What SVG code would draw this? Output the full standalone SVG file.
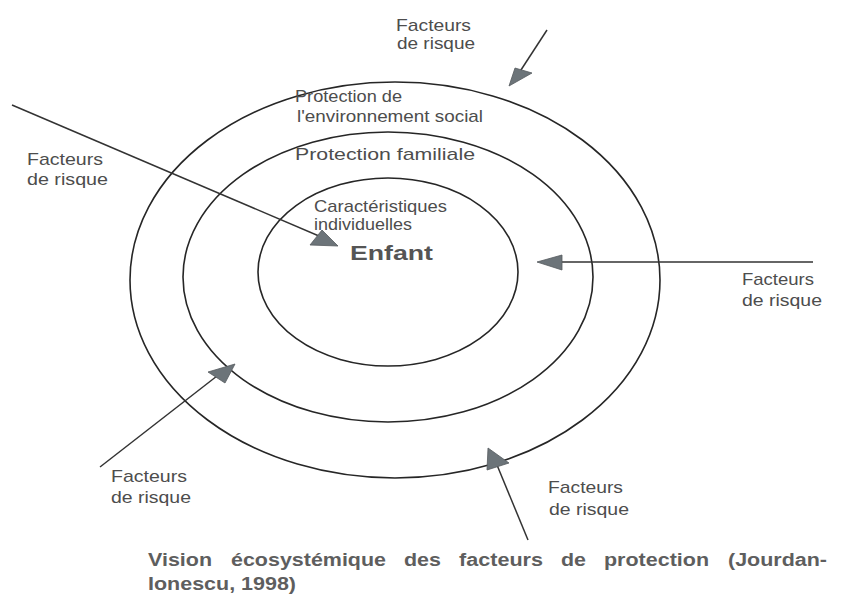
<svg xmlns="http://www.w3.org/2000/svg" width="854" height="596" viewBox="0 0 854 596">
<style>
.ring{fill:none;stroke:#262626;stroke-width:1.6}
.lbl{font-family:"Liberation Sans",Arial,sans-serif;font-size:17px;fill:#4d4d4d}
.cap{font-family:"Liberation Sans",Arial,sans-serif;font-size:18px;font-weight:bold;fill:#5e5e5e}
.big{font-family:"Liberation Sans",Arial,sans-serif;font-size:21px;font-weight:bold;fill:#555}
.ln{stroke:#333;stroke-width:1.5;fill:none}
.hd{fill:#6c7479;stroke:#555b5e;stroke-width:0.8}
</style>
<rect width="854" height="596" fill="#fff"/>
<g id="ring-social">
<ellipse class="ring" cx="395" cy="280" rx="265" ry="198"/>
<text class="lbl" x="295" y="102" textLength="107" lengthAdjust="spacingAndGlyphs">Protection de</text>
<text class="lbl" x="297" y="122" textLength="186" lengthAdjust="spacingAndGlyphs">l'environnement social</text>
</g>
<g id="ring-familiale">
<ellipse class="ring" cx="388" cy="277" rx="205" ry="145"/>
<text class="lbl" x="295" y="160" textLength="180" lengthAdjust="spacingAndGlyphs">Protection familiale</text>
</g>
<g id="ring-individuelles">
<ellipse class="ring" cx="388" cy="272" rx="130" ry="94"/>
<text class="lbl" x="314" y="212" textLength="133" lengthAdjust="spacingAndGlyphs">Caractéristiques</text>
<text class="lbl" x="314" y="230" textLength="98" lengthAdjust="spacingAndGlyphs">individuelles</text>
</g>
<g id="enfant">
<text class="big" x="350" y="260" textLength="83" lengthAdjust="spacingAndGlyphs">Enfant</text>
</g>
<g id="risque-haut">
<text class="lbl" x="396" y="31" textLength="75" lengthAdjust="spacingAndGlyphs">Facteurs</text>
<text class="lbl" x="397" y="49" textLength="78" lengthAdjust="spacingAndGlyphs">de risque</text>
</g>
<g id="risque-gauche">
<text class="lbl" x="27" y="165" textLength="76" lengthAdjust="spacingAndGlyphs">Facteurs</text>
<text class="lbl" x="27" y="185" textLength="81" lengthAdjust="spacingAndGlyphs">de risque</text>
</g>
<g id="risque-droite">
<text class="lbl" x="742" y="285" textLength="72" lengthAdjust="spacingAndGlyphs">Facteurs</text>
<text class="lbl" x="742" y="306" textLength="80" lengthAdjust="spacingAndGlyphs">de risque</text>
</g>
<g id="risque-bas-gauche">
<text class="lbl" x="111" y="482" textLength="76" lengthAdjust="spacingAndGlyphs">Facteurs</text>
<text class="lbl" x="111" y="503" textLength="80" lengthAdjust="spacingAndGlyphs">de risque</text>
</g>
<g id="risque-bas">
<text class="lbl" x="548" y="493" textLength="75" lengthAdjust="spacingAndGlyphs">Facteurs</text>
<text class="lbl" x="549" y="515" textLength="80" lengthAdjust="spacingAndGlyphs">de risque</text>
</g>
<g id="connectors">
<line class="ln" x1="547" y1="30" x2="519" y2="73"/>
<polygon class="hd" points="509,86 515,68 532,73"/>
<line class="ln" x1="12" y1="105" x2="326" y2="239"/>
<polygon class="hd" points="310,245 338,246 322,230"/>
<line class="ln" x1="813" y1="262" x2="560" y2="262"/>
<polygon class="hd" points="537,262 562,255 562,270"/>
<line class="ln" x1="100" y1="467" x2="217" y2="376"/>
<polygon class="hd" points="235,364 208,372 225,383"/>
<line class="ln" x1="528" y1="540" x2="497" y2="465"/>
<polygon class="hd" points="488,448 487,470 509,463"/>
</g>
<g id="caption">
<text class="cap" x="148" y="566" textLength="64" lengthAdjust="spacingAndGlyphs">Vision</text>
<text class="cap" x="231" y="566" textLength="155" lengthAdjust="spacingAndGlyphs">écosystémique</text>
<text class="cap" x="404" y="566" textLength="37" lengthAdjust="spacingAndGlyphs">des</text>
<text class="cap" x="459" y="566" textLength="84" lengthAdjust="spacingAndGlyphs">facteurs</text>
<text class="cap" x="561" y="566" textLength="25" lengthAdjust="spacingAndGlyphs">de</text>
<text class="cap" x="604" y="566" textLength="105" lengthAdjust="spacingAndGlyphs">protection</text>
<text class="cap" x="728" y="566" textLength="99" lengthAdjust="spacingAndGlyphs">(Jourdan-</text>
<text class="cap" x="148" y="590" textLength="148" lengthAdjust="spacingAndGlyphs">Ionescu, 1998)</text>
</g>
</svg>
